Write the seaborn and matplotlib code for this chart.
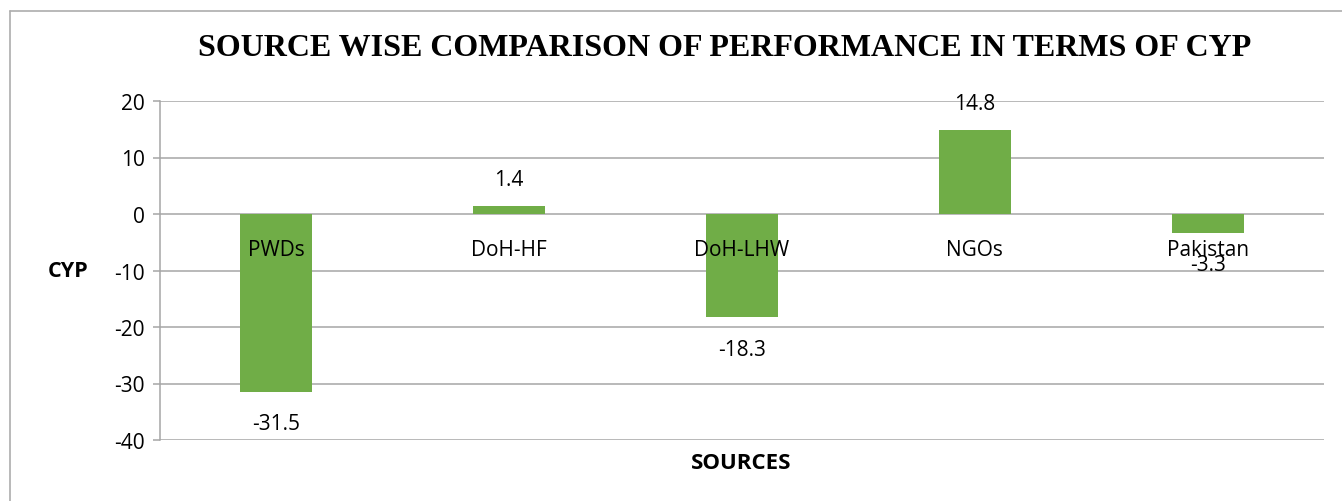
import matplotlib
matplotlib.use("Agg")
import matplotlib.pyplot as plt
import seaborn as sns
import pandas as pd
from matplotlib.lines import Line2D

sources = ["PWDs", "DoH-HF", "DoH-LHW", "NGOs", "Pakistan"]
cyp = [-31.5, 1.4, -18.3, 14.8, -3.3]
yticks = [20, 10, 0, -10, -20, -30, -40]

df = pd.DataFrame({"source": sources, "cyp": cyp})

sns.set_theme(style="white")
plt.rcParams["font.family"] = ["Open Sans", "DejaVu Sans"]
plt.rcParams["text.color"] = "black"
plt.rcParams["ytick.color"] = "black"

W, H = 1342, 502
fig = plt.figure(figsize=(W / 100, H / 100), dpi=100)
ax = fig.add_axes([160 / W, 1 - 441 / H, (1324 - 160) / W, (441 - 102) / H])

grid_c = "#A6A6A6"
sns.barplot(data=df, x="source", y="cyp", color="#70AD47", saturation=1,
            width=0.31, linewidth=0, ax=ax, zorder=3)

ax.set_ylim(-40, 20)
ax.set_xlim(-0.5, len(sources) - 0.5)
ax.set_yticks(yticks)
ax.set_yticklabels([str(t) for t in yticks], fontsize=15, color="black")
ax.yaxis.grid(True, color=grid_c, linewidth=1.1, zorder=0)
ax.set_axisbelow(True)
for s in ["top", "right", "bottom"]:
    ax.spines[s].set_visible(False)
ax.spines["left"].set_color(grid_c)
ax.spines["left"].set_linewidth(1.1)
ax.tick_params(axis="y", length=5, color=grid_c, labelcolor="black", width=1.1,
               pad=6, left=True)
ax.set_xticks([])
ax.set_xlabel("")
ax.set_ylabel("")

# category labels sitting just below the zero line
for i, s in enumerate(sources):
    ax.text(i, -6.2, s, ha="center", va="center", fontsize=15, color="black", zorder=5)

# value labels
for i, v in enumerate(cyp):
    off = 19 if v >= 0 else -23
    ax.annotate(f"{v}", (i, v), xytext=(0, off), textcoords="offset points",
                ha="center", va="center", fontsize=15, color="black", zorder=5)

fig.text(725 / W, 1 - 48 / H, "SOURCE WISE COMPARISON OF PERFORMANCE IN TERMS OF CYP",
         ha="center", va="center", fontsize=23, fontweight="bold", color="black",
         family=["Liberation Serif", "DejaVu Serif"])
fig.text(68 / W, 1 - 272 / H, "CYP", ha="center", va="center", fontsize=15.5,
         fontweight="bold", color="black")
fig.text(741 / W, 1 - 464 / H, "SOURCES", ha="center", va="center", fontsize=16,
         fontweight="bold", color="black")

# outer chart border (left and top visible)
fig.add_artist(Line2D([9.5 / W, 9.5 / W], [0, 1 - 12 / H], transform=fig.transFigure,
                      color="#ADADAD", linewidth=1.2))
fig.add_artist(Line2D([9.5 / W, 1], [1 - 12 / H, 1 - 12 / H], transform=fig.transFigure,
                      color="#ADADAD", linewidth=1.2))

fig.savefig("out.png", dpi=100, facecolor="white")
